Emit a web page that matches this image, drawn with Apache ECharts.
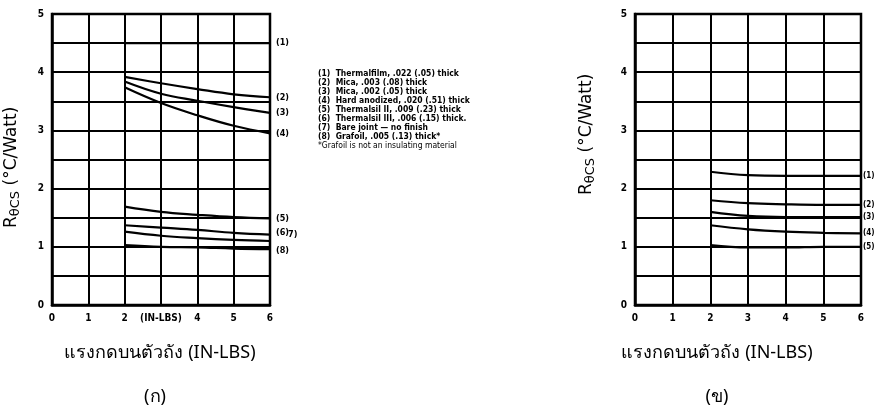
<!DOCTYPE html>
<html><head><meta charset="utf-8">
<script src="https://cdn.jsdelivr.net/npm/echarts@6/dist/echarts.min.js"></script>
<style>html,body{margin:0;padding:0;background:#fff}#c{width:877px;height:412px}</style>
</head><body><div id="c"></div>
<script>
// ---- data ----
var xTicks = [0, 1, 2, 3, 4, 5, 6];
var xTickLabelsA = ['0', '1', '2', '(IN-LBS)', '4', '5', '6'];
var xTickLabelsB = ['0', '1', '2', '3', '4', '5', '6'];
var yTickLabels = ['0', '1', '2', '3', '4', '5'];
var torque = [2, 3, 4, 5, 6];

var a1 = [4.50, 4.50, 4.50, 4.50, 4.50];
var a2 = [3.92, 3.81, 3.71, 3.62, 3.57];
var a3 = [3.84, 3.63, 3.51, 3.40, 3.30];
var a4 = [3.74, 3.47, 3.26, 3.08, 2.95];
var a5 = [1.69, 1.60, 1.55, 1.51, 1.49];
var a6 = [1.37, 1.33, 1.29, 1.24, 1.21];
var a7 = [1.26, 1.19, 1.15, 1.12, 1.10];
var a8 = [1.03, 1.00, 0.99, 0.97, 0.96];
var seriesA = [a1, a2, a3, a4, a5, a6, a7, a8];
var labelsA = ['(1)', '(2)', '(3)', '(4)', '(5)', '(6)', '7)', '(8)'];

var b1 = [2.29, 2.23, 2.22, 2.22, 2.22];
var b2 = [1.80, 1.75, 1.73, 1.72, 1.72];
var b3 = [1.60, 1.53, 1.51, 1.51, 1.51];
var b4 = [1.37, 1.30, 1.26, 1.24, 1.23];
var b5 = [1.03, 0.99, 0.99, 1.00, 1.00];
var seriesB = [b1, b2, b3, b4, b5];
var labelsB = ['(1)', '(2)', '(3)', '(4)', '(5)'];

var legendLines = [
  '(1)  Thermalfilm, .022 (.05) thick',
  '(2)  Mica, .003 (.08) thick',
  '(3)  Mica, .002 (.05) thick',
  '(4)  Hard anodized, .020 (.51) thick',
  '(5)  Thermalsil II, .009 (.23) thick',
  '(6)  Thermalsil III, .006 (.15) thick.',
  '(7)  Bare joint \u2014 no finish',
  '(8)  Grafoil, .005 (.13) thick*',
  '*Grafoil is not an insulating material'
];
var xTitle = 'แรงกดบนตัวถัง (IN-LBS)';
var captionA = '(ก)';
var captionB = '(ข)';

// ---- chart ----
var tickFont = 'DejaVu Sans Condensed';
function xAxisDef(idx, labels) {
  return {
    gridIndex: idx, type: 'value', min: 0, max: 6, interval: 1,
    axisLine: {show: true, lineStyle: {color: '#000', width: 2.5}},
    axisTick: {show: false},
    axisLabel: {color: '#000', fontSize: 10, fontWeight: 'bold', fontFamily: tickFont, margin: 8,
      formatter: function (v) { var i = xTicks.indexOf(v); return i >= 0 ? labels[i] : ''; }},
    splitLine: {show: true, lineStyle: {color: '#000', width: 2}}
  };
}
function yAxisDef(idx) {
  return {
    gridIndex: idx, type: 'value', min: 0, max: 5, interval: 0.5,
    axisLine: {show: true, lineStyle: {color: '#000', width: 2.5}},
    axisTick: {show: false},
    axisLabel: {color: '#000', fontSize: 10, fontWeight: 'bold', fontFamily: tickFont, margin: 8,
      formatter: function (v) { return (Math.abs(v - Math.round(v)) < 1e-6) ? yTickLabels[Math.round(v)] : ''; }},
    splitLine: {show: true, lineStyle: {color: '#000', width: 2}}
  };
}
function mkSeries(data, gi, lab, offset, dist, fs) {
  var pts = data.map(function (v, i) { return [torque[i], v]; });
  return {
    type: 'line', xAxisIndex: gi, yAxisIndex: gi, data: pts, smooth: 0.4,
    showSymbol: false, symbol: 'none', silent: true, z: 5,
    lineStyle: {color: '#000', width: 2.2}, animation: false,
    endLabel: {show: true, formatter: lab, distance: dist, offset: offset || [0, 0],
      color: '#000', fontSize: fs, fontWeight: 'bold', fontFamily: tickFont}
  };
}
var series = [];
var offA = [[0,0],[0,0],[0,0],[0,0],[0,0],[0,-2],[12,-6],[0,2]];
seriesA.forEach(function (d, i) { series.push(mkSeries(d, 0, labelsA[i], offA[i], 6, 9)); });
seriesB.forEach(function (d, i) { series.push(mkSeries(d, 1, labelsB[i], [0, 0], 2, 8)); });

var rich = {
  r: {fontSize: 17, fontFamily: 'DejaVu Sans', color: '#000'},
  s: {fontSize: 13, fontFamily: 'DejaVu Sans', color: '#000', padding: [8, 0, 0, 0]}
};
var thaiFont = 'Noto Sans, DejaVu Sans, sans-serif';
var graphics = [
  {type: 'text', x: 12, y: 228, rotation: Math.PI / 2,
   style: {text: '{r|R}{s|θCS}{r| (°C/Watt)}', rich: rich, textAlign: 'left', textVerticalAlign: 'middle'}},
  {type: 'text', x: 587, y: 195, rotation: Math.PI / 2,
   style: {text: '{r|R}{s|θCS}{r| (°C/Watt)}', rich: rich, textAlign: 'left', textVerticalAlign: 'middle'}},
  {type: 'text', x: 160, y: 353, style: {text: xTitle, fontSize: 18, fontFamily: thaiFont, fill: '#000', textAlign: 'center', textVerticalAlign: 'middle'}},
  {type: 'text', x: 717, y: 353, style: {text: xTitle, fontSize: 18, fontFamily: thaiFont, fill: '#000', textAlign: 'center', textVerticalAlign: 'middle'}},
  {type: 'text', x: 155, y: 397, style: {text: captionA, fontSize: 18, fontFamily: thaiFont, fill: '#000', textAlign: 'center', textVerticalAlign: 'middle'}},
  {type: 'text', x: 717, y: 397, style: {text: captionB, fontSize: 18, fontFamily: thaiFont, fill: '#000', textAlign: 'center', textVerticalAlign: 'middle'}}
];
legendLines.forEach(function (t, i) {
  graphics.push({type: 'text', x: 318, y: 74 + i * 9, style: {text: t, fontSize: 8.5, fontWeight: i < 8 ? 'bold' : 'normal',
    fontFamily: tickFont, fill: '#000', textAlign: 'left', textVerticalAlign: 'middle'}});
});

var chart = echarts.init(document.getElementById('c'), null, {renderer: 'canvas'});
chart.setOption({
  animation: false,
  backgroundColor: '#fff',
  grid: [
    {left: 52, top: 14, width: 218, height: 291, show: true, borderColor: '#000', borderWidth: 2.5, backgroundColor: 'transparent'},
    {left: 635, top: 14, width: 226, height: 291, show: true, borderColor: '#000', borderWidth: 2.5, backgroundColor: 'transparent'}
  ],
  xAxis: [xAxisDef(0, xTickLabelsA), xAxisDef(1, xTickLabelsB)],
  yAxis: [yAxisDef(0), yAxisDef(1)],
  series: series,
  graphic: graphics
});
</script></body></html>
